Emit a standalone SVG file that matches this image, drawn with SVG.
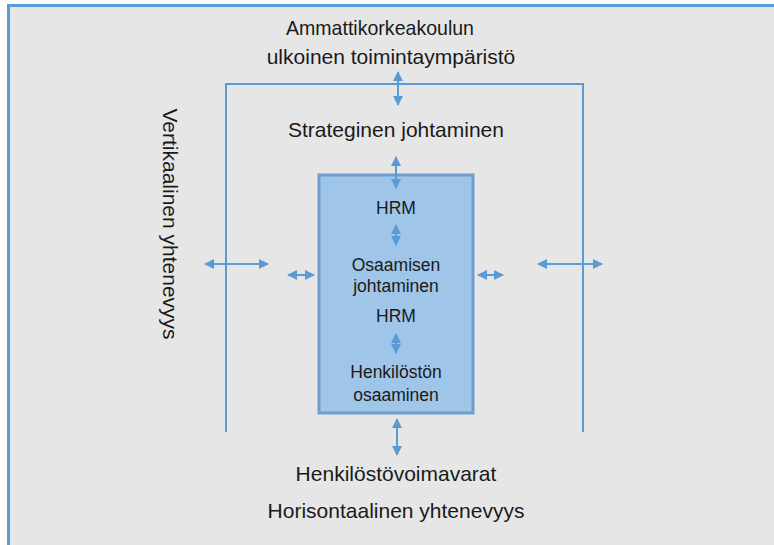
<svg xmlns="http://www.w3.org/2000/svg" width="774" height="545" viewBox="0 0 774 545">
  <defs>
    <marker id="head" viewBox="0 0 10 10" refX="9" refY="5" markerWidth="5" markerHeight="5" orient="auto-start-reverse" markerUnits="strokeWidth">
      <path d="M0,0 L10,5 L0,10 Z" fill="#5b9bd5"/>
    </marker>
  </defs>
  <style>
    .lbl { font-family: "Liberation Sans", Arial, sans-serif; font-size: 21px; fill: #1a1a1a; text-anchor: middle; }
    .inner { font-size: 17.5px; }
    .conn { stroke: #5b9bd5; stroke-width: 2; fill: none; }
    .arr { stroke: #5b9bd5; stroke-width: 2; fill: none; marker-start: url(#head); marker-end: url(#head); }
  </style>

  <!-- canvas -->
  <rect x="0" y="0" width="774" height="545" fill="#ffffff"/>
  <rect x="8" y="5" width="780" height="560" fill="#e6e6e6"/>
  <path d="M8.5,545 V5.5 H774" fill="none" stroke="#5b9bd5" stroke-width="3"/>

  <!-- environment labels -->
  <g id="environment">
    <text class="lbl" x="380" y="35" textLength="188" lengthAdjust="spacingAndGlyphs">Ammattikorkeakoulun</text>
    <text class="lbl" x="391" y="64">ulkoinen toimintaympäristö</text>
  </g>
  <g id="strategy">
    <text class="lbl" x="396" y="137">Strateginen johtaminen</text>
  </g>
  <g id="vertical">
    <text class="lbl" transform="translate(163,224) rotate(90)">Vertikaalinen yhtenevyys</text>
  </g>
  <g id="resources">
    <text class="lbl" x="396" y="481">Henkilöstövoimavarat</text>
  </g>
  <g id="horizontal">
    <text class="lbl" x="396" y="518">Horisontaalinen yhtenevyys</text>
  </g>

  <!-- central box -->
  <g id="core">
    <rect x="319" y="175" width="154" height="238" fill="#9fc5e8" stroke="#6f9dcc" stroke-width="3"/>
    <text class="lbl inner" x="396" y="214">HRM</text>
    <text class="lbl inner" x="396" y="271">Osaamisen</text>
    <text class="lbl inner" x="396" y="292">johtaminen</text>
    <text class="lbl inner" x="396" y="322">HRM</text>
    <text class="lbl inner" x="396" y="378">Henkilöstön</text>
    <text class="lbl inner" x="396" y="401">osaaminen</text>
  </g>

  <!-- connectors -->
  <g id="connectors">
    <path class="conn" d="M226,432 V84 H583 V432"/>
    <line class="arr" x1="398" y1="72" x2="398" y2="105"/>
    <line class="arr" x1="396" y1="157" x2="396" y2="188"/>
    <line class="arr" x1="396" y1="225" x2="396" y2="245"/>
    <line class="arr" x1="396" y1="334" x2="396" y2="353"/>
    <line class="arr" x1="397" y1="419" x2="397" y2="455"/>
    <line class="arr" x1="205" y1="264" x2="268" y2="264"/>
    <line class="arr" x1="288" y1="275" x2="314" y2="275"/>
    <line class="arr" x1="478" y1="275" x2="503" y2="275"/>
    <line class="arr" x1="538" y1="264" x2="602" y2="264"/>
  </g>
</svg>
